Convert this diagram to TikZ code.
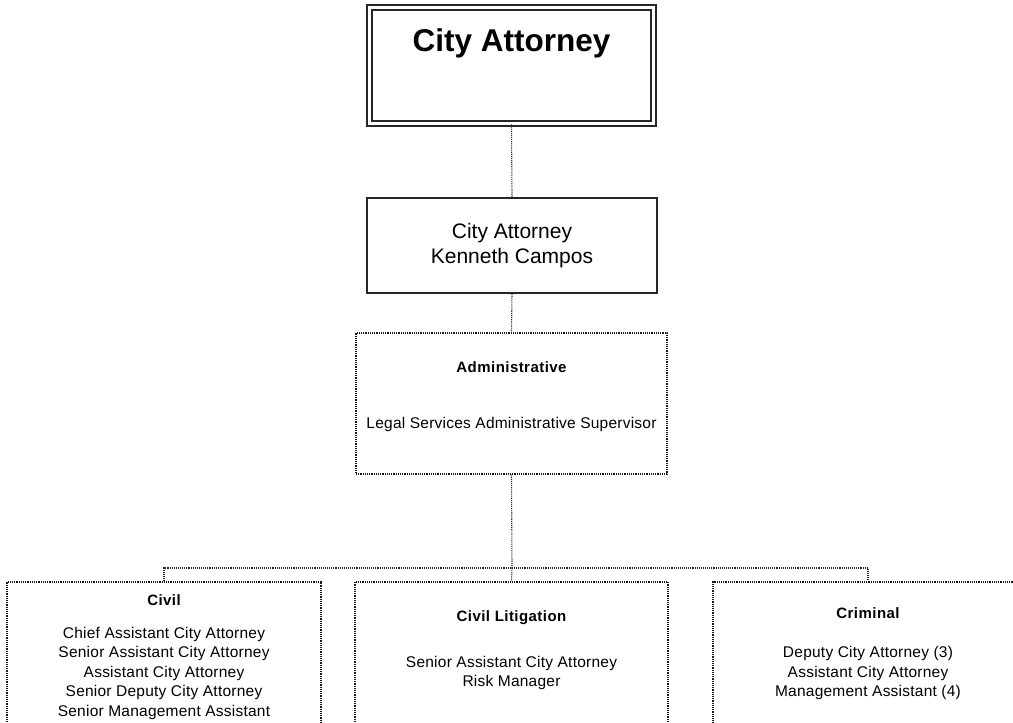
\documentclass[tikz,border=0pt]{standalone}
\usepackage{fontspec}
\setmainfont{Liberation Sans}
\begin{document}
\begin{tikzpicture}[x=1pt,y=-1pt,
  headbox/.style={draw=black!85, line width=1.7pt, double=white, double distance=3.2pt,
    minimum width=284pt, minimum height=116pt, inner sep=0pt},
  namebox/.style={draw=black!85, line width=1.9pt, minimum width=290pt, minimum height=95pt,
    align=center, font=\fontsize{21}{25}\selectfont},
  unitbox/.style={draw=black!90, densely dotted, line width=1.2pt, inner sep=0pt},
  link/.style={draw=black!85, densely dotted, line width=1.1pt},
  title/.style={font=\fontsize{15}{18}\selectfont\bfseries\addfontfeature{LetterSpace=3}, inner sep=0pt},
  staff/.style={font=\fontsize{15.5}{19.5}\selectfont\addfontfeature{LetterSpace=1.5}, align=center, inner sep=0pt}]
  \useasboundingbox (0,0) rectangle (1013,723);
  \clip (0,0) rectangle (1013,723);

  % top of the chart
  \node[headbox] (head) at (511.5,65.5) {};
  \node[font=\fontsize{31.5}{36}\selectfont\bfseries, inner sep=0pt] (headtext) at (511.5,43.5) {City Attorney};

  \node[namebox] (attorney) at (512,245.5) {City Attorney\\Kenneth Campos};

  % administrative unit
  \node[unitbox, minimum width=311pt, minimum height=141pt] (admin) at (511.5,403.5) {};
  \node[title] (admintitle) at (511.5,367) {Administrative};
  \node[staff] (adminstaff) at (511.5,424) {Legal Services Administrative Supervisor};

  % divisions
  \node[unitbox, minimum width=314pt, minimum height=190pt] (civil) at (164,677) {};
  \node[unitbox, minimum width=313pt, minimum height=190pt] (litig) at (511.5,677) {};
  \node[unitbox, minimum width=310pt, minimum height=190pt] (crim) at (868,677) {};

  \node[title] (civiltitle) at (164,600.5) {Civil};
  \node[staff, anchor=north] (civilstaff) at (164,627) {Chief Assistant City Attorney\\Senior Assistant City Attorney\\Assistant City Attorney\\Senior Deputy City Attorney\\Senior Management Assistant};

  \node[title] (litigtitle) at (511.5,618) {Civil Litigation};
  \node[staff] (litigstaff) at (511.5,673) {Senior Assistant City Attorney\\Risk Manager};

  \node[title] (crimtitle) at (868,613) {Criminal};
  \node[staff] (crimstaff) at (868,673) {Deputy City Attorney (3)\\Assistant City Attorney\\Management Assistant (4)};

  % reporting lines
  \coordinate (bus) at (512,568);
  \draw[link] (head.south) -- (attorney.north);
  \draw[link] (attorney.south) -- (admin.north);
  \draw[link] (admin.south) -- (bus);
  \draw[link] (civil.north) |- (bus) -| (crim.north);
  \draw[link] (bus) -- (litig.north);
\end{tikzpicture}
\end{document}
